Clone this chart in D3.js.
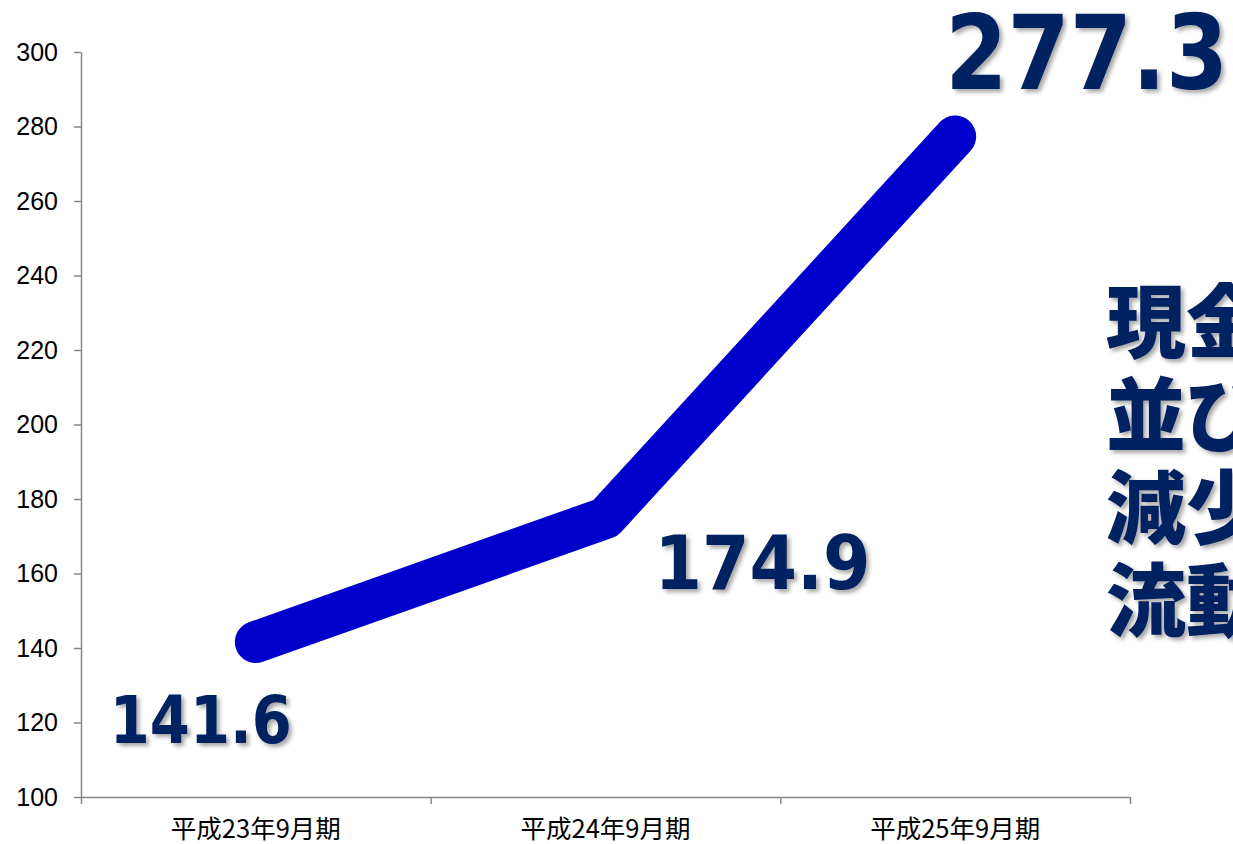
<!DOCTYPE html>
<html>
<head>
<meta charset="utf-8">
<script src="https://cdn.jsdelivr.net/npm/d3@7"></script>
<style>
  body { margin: 0; background: #fff; overflow: hidden; }
</style>
</head>
<body>
<script>
// data
const periods = ['平成23年9月期', '平成24年9月期', '平成25年9月期'];
const values = [141.6, 174.9, 277.3];
const yTicks = [100, 120, 140, 160, 180, 200, 220, 240, 260, 280, 300];
const noteLines = ['現金及び預金', '並びに有価証券', '減少による', '流動性の低下'];

let width = 1233,
    height = 844;

let margin = { top: 52, bottom: 47, left: 81, right: 103 };

let svg = d3.select('body')
  .append('svg')
    .attr('width', width)
    .attr('height', height)
    .style('background', '#ffffff');

// soft shadow for the big labels
let defs = svg.append('defs');
let f = defs.append('filter').attr('id', 'shadow')
  .attr('x', '-10%').attr('y', '-10%').attr('width', '130%').attr('height', '140%');
f.append('feDropShadow')
  .attr('dx', 3).attr('dy', 3).attr('stdDeviation', 2)
  .attr('flood-color', '#000').attr('flood-opacity', 0.35);

let yScale = d3.scaleLinear()
  .domain([100, 300])
  .range([height - margin.bottom, margin.top]);

let xScale = d3.scaleBand()
  .domain(periods)
  .range([margin.left, width - margin.right])
  .padding(0);

let xCenter = d => xScale(d) + xScale.bandwidth() / 2;

// y axis
let yAxis = svg.append('g')
  .attr('transform', `translate(${margin.left},0)`)
  .call(d3.axisLeft(yScale).tickValues(yTicks).tickSize(7).tickSizeOuter(0).tickPadding(16));

yAxis.selectAll('path, line').attr('stroke', '#868686').attr('stroke-width', 1.5);
yAxis.selectAll('text')
  .style('font-family', '"Liberation Sans", Arial, sans-serif')
  .style('font-size', '25px')
  .attr('fill', '#000');

// x axis: ticks on the band edges, labels in the middle
let edgeScale = d3.scaleLinear().domain([0, periods.length]).range(xScale.range());
let xAxis = svg.append('g')
  .attr('transform', `translate(0,${height - margin.bottom})`)
  .call(d3.axisBottom(edgeScale).ticks(periods.length).tickSize(7).tickSizeOuter(0).tickFormat(''));

xAxis.selectAll('path, line').attr('stroke', '#868686').attr('stroke-width', 1.5);

svg.append('g')
  .selectAll('text')
  .data(periods)
  .enter()
  .append('text')
    .attr('x', d => xCenter(d))
    .attr('y', height - 6)
    .attr('text-anchor', 'middle')
    .style('font-family', '"Noto Sans CJK JP", sans-serif')
    .style('font-size', '25.5px')
    .attr('fill', '#000')
    .text(d => d);

// the line
let pts = periods.map((p, i) => [xCenter(p), yScale(values[i])]);

svg.append('path')
  .datum(pts)
  .attr('d', d3.line())
  .attr('fill', 'none')
  .attr('stroke', '#0000cc')
  .attr('stroke-width', 42)
  .attr('stroke-linecap', 'round')
  .attr('stroke-linejoin', 'round');

// value labels, placed relative to each point
let labelPlace = [
  { dx: -146, dy: 101, size: 66, w: 182 },
  { dx: 49, dy: 71, size: 75, w: 216 },
  { dx: -10, dy: -48, size: 103, w: 283 }
];

svg.append('g')
  .selectAll('text')
  .data(values)
  .enter()
  .append('text')
    .attr('x', (d, i) => pts[i][0] + labelPlace[i].dx)
    .attr('y', (d, i) => pts[i][1] + labelPlace[i].dy)
    .attr('textLength', (d, i) => labelPlace[i].w)
    .attr('lengthAdjust', 'spacingAndGlyphs')
    .style('font-family', '"DejaVu Sans", Verdana, sans-serif')
    .style('font-weight', 'bold')
    .style('font-size', (d, i) => labelPlace[i].size + 'px')
    .attr('fill', '#002060')
    .attr('filter', 'url(#shadow)')
    .text(d => d3.format('.1f')(d));

// note on the right, cut by the edge
svg.append('g')
  .selectAll('text')
  .data(noteLines)
  .enter()
  .append('text')
    .attr('x', 1106)
    .attr('y', (d, i) => 351 + i * 93)
    .style('font-family', '"Noto Sans CJK JP", sans-serif')
    .style('font-weight', 900)
    .style('font-size', '80px')
    .attr('fill', '#002060')
    .attr('filter', 'url(#shadow)')
    .text(d => d);
</script>
</body>
</html>
